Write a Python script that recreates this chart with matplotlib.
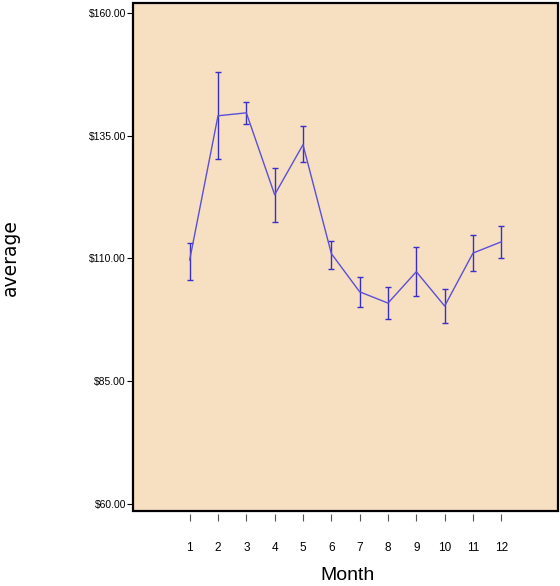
import numpy as np
import matplotlib
matplotlib.use('Agg')
import matplotlib.pyplot as plt
from matplotlib.ticker import FuncFormatter

# values
months = [1, 2, 3, 4, 5, 6, 7, 8, 9, 10, 11, 12]
average = [109.7, 139.1, 139.7, 123.0, 133.2, 111.0, 103.2, 100.9, 107.3, 100.3, 111.1, 113.4]
upper = [113.2, 148.1, 142.0, 128.4, 137.0, 113.6, 106.3, 104.1, 112.4, 103.7, 114.7, 116.7]
lower = [105.6, 130.2, 137.4, 117.4, 129.7, 107.9, 100.1, 97.6, 102.3, 96.9, 107.4, 110.0]
y_ticks = [60, 85, 110, 135, 160]

avg = np.array(average)
yerr = [avg - np.array(lower), np.array(upper) - avg]

plt.rcParams['font.family'] = 'Liberation Sans'

fig = plt.figure(figsize=(5.6, 5.86), dpi=100)
ax = fig.add_axes([133 / 560, 1 - 511 / 586, 425 / 560, 508 / 586])
ax.set_facecolor('#F7DFC2')

# error bars first, then the connecting line
ax.errorbar(months, average, yerr=yerr, fmt='none', ecolor='#3A30C8',
            elinewidth=1.0, capsize=2.2, capthick=1.0, zorder=2)
ax.plot(months, average, color='#5A50D8', linewidth=1.0, zorder=3)

ax.set_xlim(-1, 14)
ax.set_ylim(58.5, 162.1)
ax.set_xticks(months)
ax.set_yticks(y_ticks)
ax.yaxis.set_major_formatter(FuncFormatter(lambda v, p: f'${v:.2f}'))

# frame drawn by the axes patch, x ticks sit a little below it
for s in ax.spines.values():
    s.set_visible(False)
ax.patch.set_edgecolor('black')
ax.patch.set_linewidth(1.6)
ax.spines['bottom'].set_position(('outward', 2))

ax.tick_params(axis='x', length=5, width=0.8, color='#555555', pad=15, labelsize=8.5)
ax.tick_params(axis='y', length=4, width=0.8, pad=1, labelsize=7.5)

fig.text(0.018, 1 - 258 / 586, 'average', rotation=90, ha='center', va='center',
         fontsize=13.5, family='DejaVu Sans')
fig.text(347 / 560, 1 - 575 / 586, 'Month', ha='center', va='center', fontsize=14)

fig.savefig('out.png', dpi=100)
